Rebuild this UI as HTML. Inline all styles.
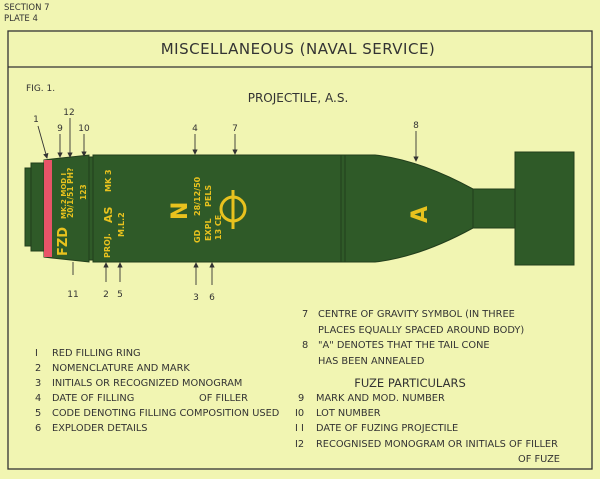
<!DOCTYPE html>
<html><head><meta charset="utf-8"><style>
html,body{margin:0;padding:0;background:#f1f5b2;}
svg{display:block;font-family:"DejaVu Sans","Liberation Sans",sans-serif;}
</style></head><body>
<svg width="600" height="479" viewBox="0 0 600 479" xmlns="http://www.w3.org/2000/svg">
<defs><marker id="ah" markerWidth="6" markerHeight="6" refX="5" refY="3" orient="auto"><path d="M0,0 L6,3 L0,6 z" fill="#333"/></marker></defs>
<rect width="600" height="479" fill="#f1f5b2"/>
<g fill="#333" font-size="8.5">
<text x="4" y="10">SECTION 7</text>
<text x="4" y="21">PLATE 4</text>
</g>
<g fill="none" stroke="#333" stroke-width="1.3">
<rect x="8" y="31" width="584" height="438"/>
<line x1="8" y1="67" x2="592" y2="67"/>
</g>
<text x="298" y="54" font-size="15" text-anchor="middle" fill="#333" letter-spacing="0.5">MISCELLANEOUS (NAVAL SERVICE)</text>
<text x="26" y="91" font-size="9" fill="#333">FIG. 1.</text>
<text x="298" y="102" font-size="12" text-anchor="middle" fill="#333">PROJECTILE, A.S.</text>

<g fill="#2f5a28" stroke="#223e1c" stroke-width="1">
<rect x="25" y="168" width="6" height="78"/>
<rect x="31" y="163" width="13" height="88"/>
<path d="M44,160 L52,159 L89,155 L89,262 L52,258 L44,257 z"/>
<rect x="89" y="157" width="4" height="103"/>
<rect x="93" y="155" width="252" height="107"/>
<path d="M345,155 L375,155 Q420,160 473,189 L473,228 Q420,257 375,262 L345,262 z"/>
<rect x="473" y="189" width="42" height="39"/>
<rect x="515" y="152" width="59" height="113"/>
</g>
<line x1="341" y1="155" x2="341" y2="262" stroke="#223e1c"/>
<rect x="44" y="160" width="8" height="97" fill="#e85468"/>

<g fill="#e8c21e" font-weight="bold">
<text transform="translate(67,256) rotate(-90)" font-size="13">FZD</text>
<text transform="translate(66,219) rotate(-90)" font-size="7">MK.2 MOD I</text>
<text transform="translate(73,218) rotate(-90)" font-size="7.5">20/1/51  PH?</text>
<text transform="translate(86,200) rotate(-90)" font-size="7.5">123</text>
<text transform="translate(110,258) rotate(-90)" font-size="8">PROJ.</text>
<text transform="translate(112,223) rotate(-90)" font-size="11">AS</text>
<text transform="translate(111,192) rotate(-90)" font-size="8">MK 3</text>
<text transform="translate(124,237) rotate(-90)" font-size="8">M.L.2</text>
<text transform="translate(187,220) rotate(-90)" font-size="22">N</text>
<text transform="translate(200,216) rotate(-90)" font-size="8">28/12/50</text>
<text transform="translate(211,207) rotate(-90)" font-size="8">PELS</text>
<text transform="translate(200,243) rotate(-90)" font-size="8">GD</text>
<text transform="translate(211,241) rotate(-90)" font-size="8">EXPL</text>
<text transform="translate(221,240) rotate(-90)" font-size="8">13 CE</text>
<text transform="translate(427,223) rotate(-90)" font-size="22">A</text>
</g>
<g stroke="#e8c21e" stroke-width="3" fill="none">
<circle cx="233" cy="209" r="12"/>
<line x1="233" y1="190" x2="233" y2="229"/>
</g>

<g fill="#333" font-size="9" text-anchor="middle">
<text x="36" y="122">1</text><text x="60" y="131">9</text><text x="69" y="115">12</text><text x="84" y="131">10</text>
<text x="195" y="131">4</text><text x="235" y="131">7</text><text x="416" y="128">8</text>
<text x="73" y="297">11</text><text x="106" y="297">2</text><text x="120" y="297">5</text>
<text x="196" y="300">3</text><text x="212" y="300">6</text>
</g>
<g stroke="#333" stroke-width="0.9" marker-end="url(#ah)">
<line x1="38" y1="126" x2="47" y2="158"/>
<line x1="60" y1="134" x2="60" y2="157"/>
<line x1="70" y1="118" x2="70" y2="157"/>
<line x1="84" y1="134" x2="84" y2="156"/>
<line x1="195" y1="134" x2="195" y2="154"/>
<line x1="235" y1="134" x2="235" y2="154"/>
<line x1="416" y1="131" x2="416" y2="161"/>
<line x1="106" y1="282" x2="106" y2="263"/>
<line x1="120" y1="282" x2="120" y2="263"/>
<line x1="196" y1="285" x2="196" y2="263"/>
<line x1="212" y1="285" x2="212" y2="263"/>
</g>
<line x1="73" y1="262" x2="73" y2="275" stroke="#333" stroke-width="0.9"/>

<g fill="#333" font-size="9.8">
<text x="35" y="356">I</text><text x="52" y="356">RED FILLING RING</text>
<text x="35" y="371">2</text><text x="52" y="371">NOMENCLATURE AND MARK</text>
<text x="35" y="386">3</text><text x="52" y="386">INITIALS OR RECOGNIZED MONOGRAM</text>
<text x="35" y="401">4</text><text x="52" y="401">DATE OF FILLING</text><text x="199" y="401">OF FILLER</text>
<text x="35" y="416">5</text><text x="52" y="416">CODE DENOTING FILLING COMPOSITION USED</text>
<text x="35" y="431">6</text><text x="52" y="431">EXPLODER DETAILS</text>

<text x="302" y="317">7</text><text x="318" y="317">CENTRE OF GRAVITY SYMBOL (IN THREE</text>
<text x="318" y="333">PLACES EQUALLY SPACED AROUND BODY)</text>
<text x="302" y="348">8</text><text x="318" y="348">"A" DENOTES THAT THE TAIL CONE</text>
<text x="318" y="364">HAS BEEN ANNEALED</text>
<text x="410" y="387" font-size="11.5" text-anchor="middle">FUZE PARTICULARS</text>
<text x="298" y="401">9</text><text x="316" y="401">MARK AND MOD. NUMBER</text>
<text x="295" y="416">I0</text><text x="316" y="416">LOT NUMBER</text>
<text x="295" y="431">I I</text><text x="316" y="431">DATE OF FUZING PROJECTILE</text>
<text x="295" y="447">I2</text><text x="316" y="447">RECOGNISED MONOGRAM OR INITIALS OF FILLER</text>
<text x="560" y="462" text-anchor="end">OF FUZE</text>
</g>
</svg>
</body></html>
